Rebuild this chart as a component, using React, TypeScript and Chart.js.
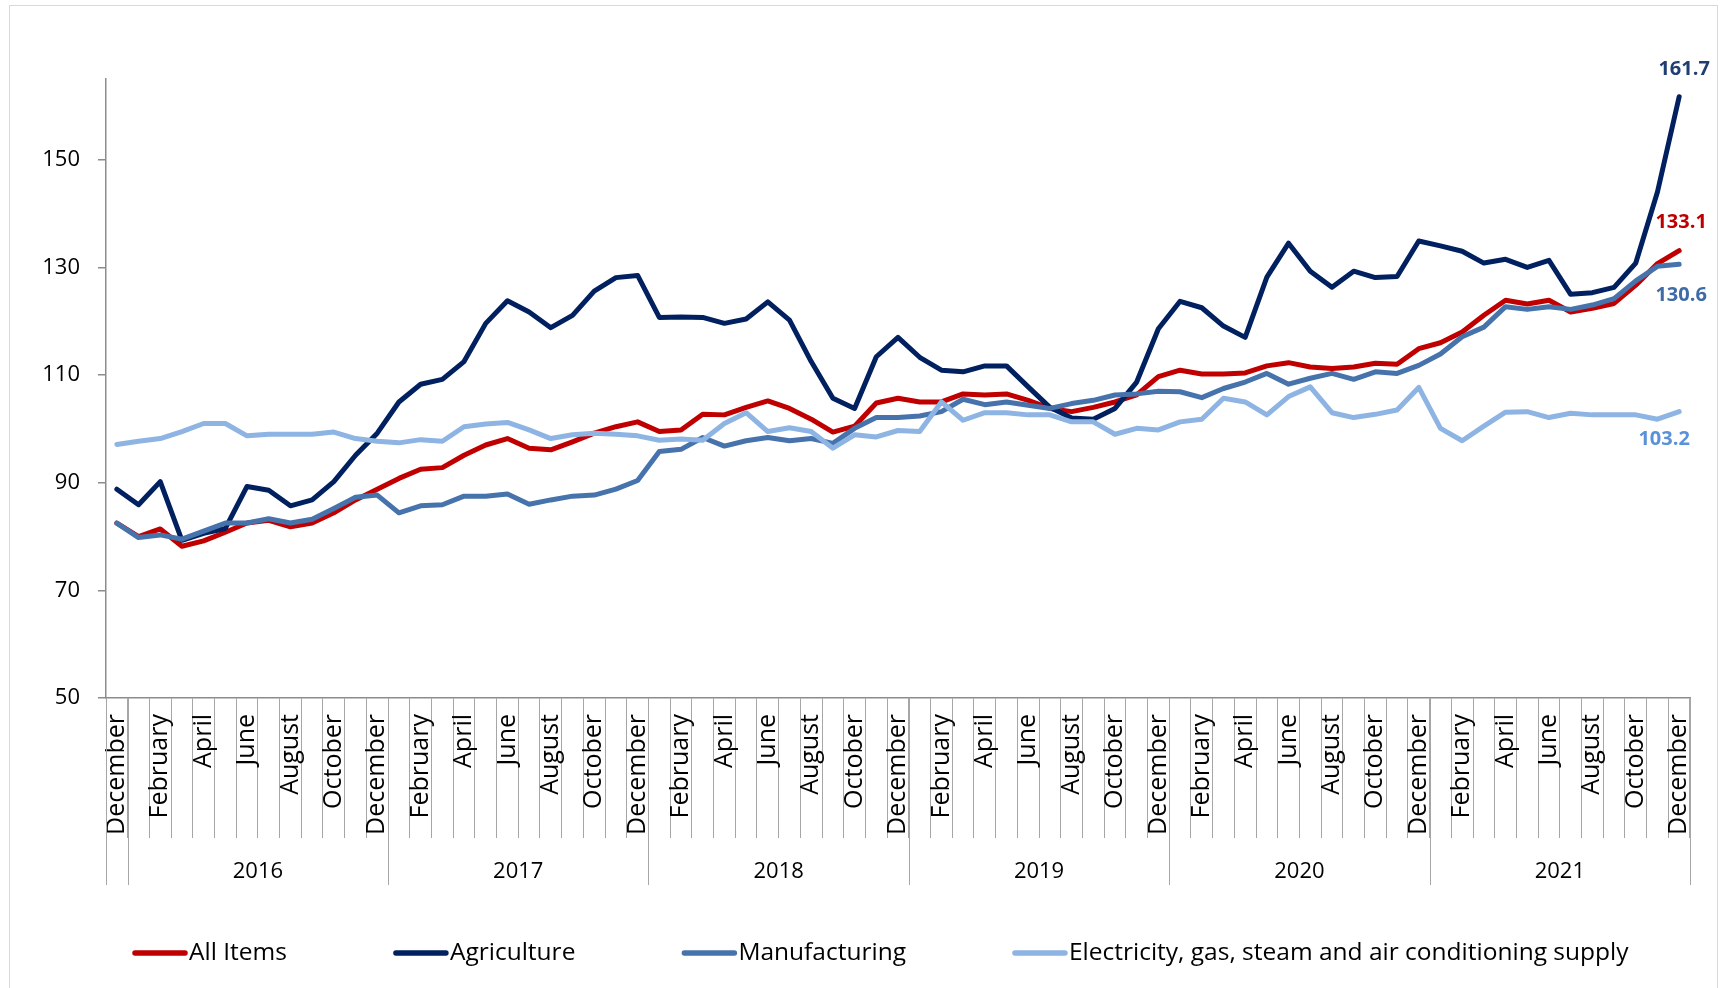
import React, { useEffect, useRef } from 'react';
import { Chart, registerables } from 'chart.js';

Chart.register(...registerables);

// ---------- data ----------
const monthNames = [
  'January', 'February', 'March', 'April', 'May', 'June',
  'July', 'August', 'September', 'October', 'November', 'December',
];
const firstCategory = 'December';
const yearLabels = ['', '2016', '2017', '2018', '2019', '2020', '2021'];
const yearGroupSizes = [1, 12, 12, 12, 12, 12, 12];
const categories: string[] = [firstCategory, ...yearLabels.slice(1).flatMap(() => monthNames)];

const allItems = [
  82.5, 80.0, 81.4, 78.2, 79.2, 80.8, 82.5, 83.0, 81.8, 82.5, 84.4, 86.8, 88.8,
  90.8, 92.5, 92.8, 95.1, 97.0, 98.2, 96.4, 96.1, 97.6, 99.2, 100.4, 101.3,
  99.5, 99.8, 102.7, 102.6, 104.0, 105.2, 103.8, 101.8, 99.4, 100.5, 104.8, 105.7,
  105.0, 105.0, 106.5, 106.3, 106.5, 105.3, 103.8, 103.2, 104.0, 105.0, 106.3, 109.7,
  110.9, 110.2, 110.2, 110.4, 111.7, 112.3, 111.5, 111.2, 111.5, 112.2, 112.0, 114.9,
  116.0, 118.0, 121.1, 123.9, 123.2, 123.9, 121.7, 122.4, 123.3, 126.7, 130.7, 133.1,
];
const agriculture = [
  88.8, 85.9, 90.2, 79.3, 80.6, 81.5, 89.3, 88.6, 85.7, 86.8, 90.2, 95.1, 99.2,
  105.0, 108.3, 109.2, 112.5, 119.6, 123.8, 121.7, 118.8, 121.1, 125.6, 128.1, 128.5,
  120.7, 120.8, 120.7, 119.6, 120.4, 123.6, 120.2, 112.5, 105.7, 103.8, 113.4, 117.0,
  113.3, 110.9, 110.6, 111.7, 111.7, 107.8, 104.0, 102.0, 101.8, 103.8, 108.7, 118.6,
  123.7, 122.5, 119.1, 117.0, 128.2, 134.5, 129.3, 126.3, 129.3, 128.1, 128.3, 134.9,
  134.0, 133.0, 130.8, 131.5, 130.0, 131.3, 125.0, 125.3, 126.3, 130.8, 144.0, 161.7,
];
const manufacturing = [
  82.5, 79.8, 80.3, 79.5, 81.0, 82.5, 82.5, 83.3, 82.5, 83.2, 85.2, 87.3, 87.7,
  84.4, 85.7, 85.9, 87.5, 87.5, 87.9, 86.0, 86.8, 87.5, 87.7, 88.8, 90.4,
  95.8, 96.2, 98.4, 96.8, 97.8, 98.4, 97.8, 98.2, 97.3, 100.1, 102.1, 102.1,
  102.4, 103.2, 105.5, 104.5, 105.0, 104.4, 103.8, 104.7, 105.3, 106.3, 106.5, 107.0,
  106.9, 105.8, 107.5, 108.7, 110.3, 108.3, 109.4, 110.3, 109.2, 110.6, 110.3, 111.8,
  113.9, 117.1, 118.9, 122.7, 122.2, 122.7, 122.2, 123.0, 124.2, 127.5, 130.2, 130.6,
];
const electricity = [
  97.1, 97.7, 98.2, 99.5, 101.0, 101.0, 98.7, 99.0, 99.0, 99.0, 99.4, 98.2, 97.7,
  97.4, 98.0, 97.7, 100.4, 100.9, 101.2, 99.8, 98.2, 98.9, 99.2, 99.0, 98.7,
  97.9, 98.1, 97.9, 101.0, 103.0, 99.5, 100.2, 99.5, 96.4, 98.9, 98.5, 99.7,
  99.5, 105.0, 101.6, 103.0, 103.0, 102.6, 102.6, 101.3, 101.3, 99.0, 100.1, 99.8,
  101.3, 101.8, 105.7, 105.0, 102.6, 106.0, 107.8, 103.0, 102.1, 102.7, 103.5, 107.7,
  100.1, 97.8, 100.5, 103.1, 103.2, 102.1, 102.9, 102.6, 102.6, 102.6, 101.8, 103.2,
];

const seriesNames = [
  'All Items',
  'Agriculture',
  'Manufacturing',
  'Electricity, gas, steam and air conditioning supply',
];
const seriesValues = [allItems, agriculture, manufacturing, electricity];
const seriesColors = ['#C00000', '#002060', '#4673AB', '#8DB4E2'];
const endLabelColors = ['#C00000', '#213E73', '#3F6BA6', '#5B91D8'];
const endLabelOffsets = [
  { dx: 2, dy: -28 },
  { dx: 5, dy: -27 },
  { dx: 2, dy: 31 },
  { dx: -15, dy: 28 },
];

const yTicks = [50, 70, 90, 110, 130, 150];
const yMin = 50;
const yMax = 165;

// ---------- styles ----------
const FONT = '"Open Sans", "DejaVu Sans", sans-serif';
const AXIS_COLOR = '#8c8c8c';
const TICK_COLOR = '#a6a6a6';
const W = 1725;
const H = 988;
const X_SCALE_HEIGHT = 187;
const MONTH_TICK_LEN = 140;

const framePlugin = {
  id: 'frame',
  beforeDraw(chart: any) {
    const ctx = chart.ctx;
    ctx.save();
    ctx.fillStyle = '#ffffff';
    ctx.fillRect(0, 0, chart.width, chart.height);
    ctx.strokeStyle = '#d9d9d9';
    ctx.lineWidth = 1;
    ctx.strokeRect(9.5, 5.5, 1708, 1000);
    ctx.restore();
  },
};

const yearAxisPlugin = {
  id: 'yearAxis',
  afterDraw(chart: any) {
    const xs = chart.scales.x;
    const ctx = chart.ctx;
    const half = (xs.getPixelForTick(1) - xs.getPixelForTick(0)) / 2;
    const top = xs.top;
    const bottom = top + X_SCALE_HEIGHT;
    ctx.save();
    ctx.strokeStyle = TICK_COLOR;
    ctx.lineWidth = 1;
    ctx.fillStyle = '#000';
    ctx.font = `22px ${FONT}`;
    ctx.textAlign = 'center';
    ctx.textBaseline = 'middle';
    let start = 0;
    yearGroupSizes.forEach((size, g) => {
      const left = xs.getPixelForTick(start) - half;
      const right = xs.getPixelForTick(start + size - 1) + half;
      [left, right].forEach((px) => {
        const p = Math.round(px) + 0.5;
        ctx.beginPath();
        ctx.moveTo(p, top);
        ctx.lineTo(p, bottom);
        ctx.stroke();
      });
      if (yearLabels[g]) ctx.fillText(yearLabels[g], (left + right) / 2, top + 174);
      start += size;
    });
    ctx.restore();
  },
};

const endLabelPlugin = {
  id: 'endLabels',
  afterDatasetsDraw(chart: any) {
    const ctx = chart.ctx;
    ctx.save();
    ctx.font = `bold 20px ${FONT}`;
    ctx.textAlign = 'center';
    ctx.textBaseline = 'middle';
    chart.data.datasets.forEach((ds: any, i: number) => {
      const meta = chart.getDatasetMeta(i);
      const pt = meta.data[meta.data.length - 1];
      const val = ds.data[ds.data.length - 1];
      ctx.fillStyle = endLabelColors[i];
      ctx.fillText(val.toFixed(1), pt.x + endLabelOffsets[i].dx, pt.y + endLabelOffsets[i].dy);
    });
    ctx.restore();
  },
};

const legendPlugin = {
  id: 'customLegend',
  afterDraw(chart: any) {
    const ctx = chart.ctx;
    ctx.save();
    ctx.font = `24.5px ${FONT}`;
    ctx.textBaseline = 'middle';
    ctx.textAlign = 'left';
    let x = 132;
    const y = 953;
    chart.data.datasets.forEach((ds: any) => {
      ctx.strokeStyle = ds.borderColor;
      ctx.lineWidth = 5.5;
      ctx.lineCap = 'round';
      ctx.beginPath();
      ctx.moveTo(x + 3, y);
      ctx.lineTo(x + 53, y);
      ctx.stroke();
      ctx.fillStyle = '#000';
      ctx.fillText(ds.label, x + 57, y);
      x += 57 + ctx.measureText(ds.label).width + 106;
    });
    ctx.restore();
  },
};

export default function App() {
  const canvasRef = useRef<HTMLCanvasElement | null>(null);

  useEffect(() => {
    const canvas = canvasRef.current;
    if (!canvas) return;
    const chart = new Chart(canvas, {
      type: 'line',
      data: {
        labels: categories,
        datasets: seriesNames.map((name, i) => ({
          label: name,
          data: seriesValues[i],
          borderColor: seriesColors[i],
          backgroundColor: seriesColors[i],
          borderWidth: 5,
          pointRadius: 0,
          pointHoverRadius: 0,
          tension: 0,
          fill: false,
          borderJoinStyle: 'round' as const,
          borderCapStyle: 'round' as const,
          order: seriesNames.length - i,
        })),
      },
      options: {
        responsive: false,
        animation: false,
        devicePixelRatio: 1,
        events: [],
        layout: { padding: { top: 79, right: 35, bottom: 103, left: 0 } },
        plugins: {
          legend: { display: false },
          tooltip: { enabled: false },
        },
        scales: {
          x: {
            type: 'category',
            offset: true,
            grid: {
              display: true,
              offset: true,
              drawOnChartArea: false,
              drawTicks: true,
              tickLength: MONTH_TICK_LEN,
              color: TICK_COLOR,
              lineWidth: 1,
            },
            border: { display: true, color: AXIS_COLOR, width: 1.5 },
            ticks: {
              autoSkip: false,
              minRotation: 90,
              maxRotation: 90,
              padding: -124,
              color: '#000',
              font: { family: FONT, size: 25 },
              callback: (_v: any, i: number) => (i % 2 === 0 ? categories[i] : ''),
            },
            afterFit: (s: any) => {
              s.height = X_SCALE_HEIGHT;
            },
          },
          y: {
            min: yMin,
            max: yMax,
            afterBuildTicks: (s: any) => {
              s.ticks = yTicks.map((v) => ({ value: v }));
            },
            afterFit: (s: any) => {
              s.width = 106;
            },
            grid: {
              display: true,
              drawOnChartArea: false,
              drawTicks: true,
              tickLength: 8,
              color: AXIS_COLOR,
              lineWidth: 1.5,
            },
            border: { display: true, color: AXIS_COLOR, width: 1.5 },
            ticks: {
              padding: 18,
              color: '#000',
              font: { family: FONT, size: 22 },
            },
          },
        },
      },
      plugins: [framePlugin, yearAxisPlugin, endLabelPlugin, legendPlugin],
    });
    return () => chart.destroy();
  }, []);

  return (
    <div style={{ position: 'absolute', left: 0, top: 0, width: W, height: H, overflow: 'hidden', background: '#fff' }}>
      <canvas ref={canvasRef} width={W} height={H} style={{ display: 'block', width: W, height: H }} />
    </div>
  );
}
